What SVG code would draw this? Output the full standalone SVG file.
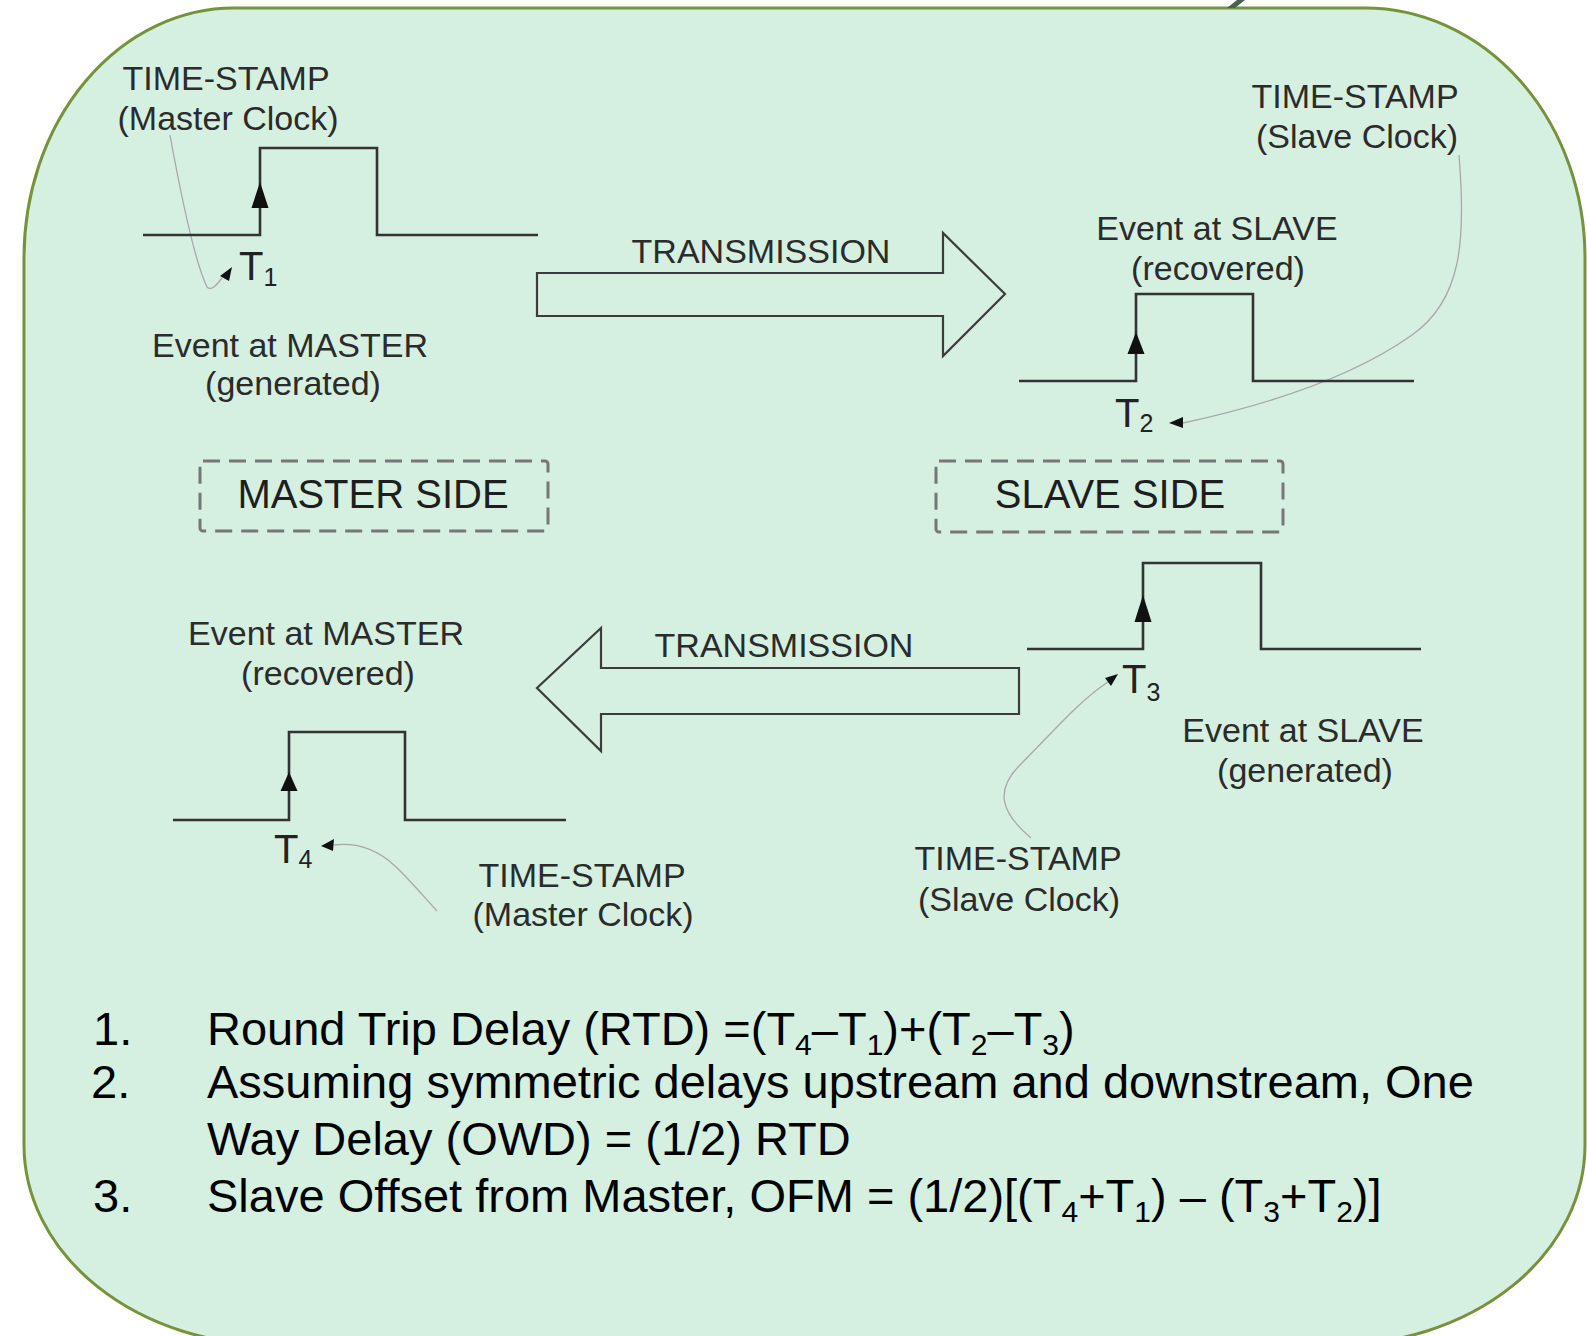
<svg xmlns="http://www.w3.org/2000/svg" width="1587" height="1336" viewBox="0 0 1587 1336">
<style>
.t{font-family:"Liberation Sans",Arial,sans-serif;font-size:34px;fill:#2b2b2b;text-anchor:middle}
.side{font-size:40px;fill:#1e1e1e}
.tl{font-family:"Liberation Sans",Arial,sans-serif;font-size:40px;fill:#222}
.ts{font-size:25px}
.f{font-family:"Liberation Sans",Arial,sans-serif;font-size:47px;fill:#000}
.sub{font-size:30px}
.pulse{fill:none;stroke:#333;stroke-width:2.6}
.lead{fill:none;stroke:#a8a8a8;stroke-width:1.3}
.big{fill:none;stroke:#3c3c3c;stroke-width:2.2;stroke-linejoin:miter}
.box{fill:none;stroke:#777;stroke-width:3;stroke-dasharray:17 9}
.ah{fill:#111}
</style>
<rect width="1587" height="1336" fill="#ffffff"/>
<g id="panel">
<path d="M24,258 A210,250 0 0 1 234,8 H1365 A220,250 0 0 1 1585,258 V1145 A250,200 0 0 1 1335,1345 H274 A250,200 0 0 1 24,1145 Z" fill="#d5f0e1" stroke="#76923b" stroke-width="3"/>
<path d="M1227,8 L1235,8 L1245,0 L1237,0 Z" fill="#4b5f52"/>
</g>
<g id="connectors">
<path class="big" d="M537,273 H943 V233 L1005,294 L943,356 V316 H537 Z"/>
<path class="big" d="M1019,668 H601 V628 L537,688 L601,751 V714 H1019 Z"/>
<path class="lead" d="M170,135 C180,190 195,262 207,287 C211,291 216,286 222,278"/>
<polygon class="ah" points="232,267 220,276 229,281"/>
<path class="lead" d="M1459,155 C1466,240 1462,300 1412,335 C1360,372 1280,402 1183,423"/>
<polygon class="ah" points="1169,423 1183,417 1183,428"/>
<path class="lead" d="M334,845 C360,842 380,852 395,866 C410,880 425,898 437,911"/>
<polygon class="ah" points="321,846 334,839 333,851"/>
<path class="lead" d="M1108,682 C1080,700 1050,735 1020,765 C995,790 1000,812 1031,838"/>
<polygon class="ah" points="1118,674 1105,678 1111,686"/>
</g>
<g id="pulse-master-generated">
<path class="pulse" d="M143,235 H260 V148 H377 V235 H538"/>
<polygon class="ah" points="260,182 251.5,208 268.5,208"/>
<text class="tl" x="239" y="280">T<tspan class="ts" dy="6">1</tspan></text>
<text class="t" x="290" y="357">Event at MASTER</text>
<text class="t" x="293" y="395">(generated)</text>
</g>
<g id="ts-master-1">
<text class="t" x="226" y="90">TIME-STAMP</text>
<text class="t" x="228" y="130">(Master Clock)</text>
</g>
<g id="pulse-slave-recovered">
<path class="pulse" d="M1019,381 H1136 V294 H1253 V381 H1414"/>
<polygon class="ah" points="1136,332 1127.5,354 1144.5,354"/>
<text class="tl" x="1115" y="427">T<tspan class="ts" dy="5">2</tspan></text>
<text class="t" x="1217" y="240">Event at SLAVE</text>
<text class="t" x="1218" y="280">(recovered)</text>
</g>
<g id="ts-slave-1">
<text class="t" x="1355" y="108">TIME-STAMP</text>
<text class="t" x="1357" y="148">(Slave Clock)</text>
</g>
<g id="transmission-1">
<text class="t" x="761" y="263">TRANSMISSION</text>
</g>
<g id="master-side">
<rect class="box" x="200" y="461" width="348" height="70" rx="3"/>
<text class="t side" x="373" y="508">MASTER SIDE</text>
</g>
<g id="slave-side">
<rect class="box" x="936" y="461" width="347" height="71" rx="3"/>
<text class="t side" x="1110" y="508">SLAVE SIDE</text>
</g>
<g id="pulse-slave-generated">
<path class="pulse" d="M1027,649 H1143 V563 H1261 V649 H1421"/>
<polygon class="ah" points="1143,595 1134.5,622 1151.5,622"/>
<text class="tl" x="1122" y="693">T<tspan class="ts" dy="8">3</tspan></text>
<text class="t" x="1303" y="742">Event at SLAVE</text>
<text class="t" x="1305" y="782">(generated)</text>
</g>
<g id="ts-slave-2">
<text class="t" x="1018" y="870">TIME-STAMP</text>
<text class="t" x="1019" y="911">(Slave Clock)</text>
</g>
<g id="transmission-2">
<text class="t" x="784" y="657">TRANSMISSION</text>
</g>
<g id="pulse-master-recovered">
<path class="pulse" d="M173,820 H289 V732 H405 V820 H566"/>
<polygon class="ah" points="289,772 280.5,791 297.5,791"/>
<text class="tl" x="274" y="863">T<tspan class="ts" dy="5">4</tspan></text>
<text class="t" x="326" y="645">Event at MASTER</text>
<text class="t" x="328" y="685">(recovered)</text>
</g>
<g id="ts-master-2">
<text class="t" x="582" y="887">TIME-STAMP</text>
<text class="t" x="583" y="926">(Master Clock)</text>
</g>
<g id="formulas">
<text class="f" x="93" y="1045">1.</text>
<text class="f" x="207" y="1045">Round Trip Delay (RTD) =(T<tspan class="sub" dy="10">4</tspan><tspan dy="-10">–T</tspan><tspan class="sub" dy="10">1</tspan><tspan dy="-10">)+(T</tspan><tspan class="sub" dy="10">2</tspan><tspan dy="-10">–T</tspan><tspan class="sub" dy="10">3</tspan><tspan dy="-10">)</tspan></text>
<text class="f" x="91" y="1098">2.</text>
<text class="f" x="207" y="1098">Assuming symmetric delays upstream and downstream, One</text>
<text class="f" x="207" y="1155">Way Delay (OWD) = (1/2) RTD</text>
<text class="f" x="93" y="1212">3.</text>
<text class="f" x="207" y="1212">Slave Offset from Master, OFM = (1/2)[(T<tspan class="sub" dy="10">4</tspan><tspan dy="-10">+T</tspan><tspan class="sub" dy="10">1</tspan><tspan dy="-10">) – (T</tspan><tspan class="sub" dy="10">3</tspan><tspan dy="-10">+T</tspan><tspan class="sub" dy="10">2</tspan><tspan dy="-10">)]</tspan></text>
</g>
</svg>
